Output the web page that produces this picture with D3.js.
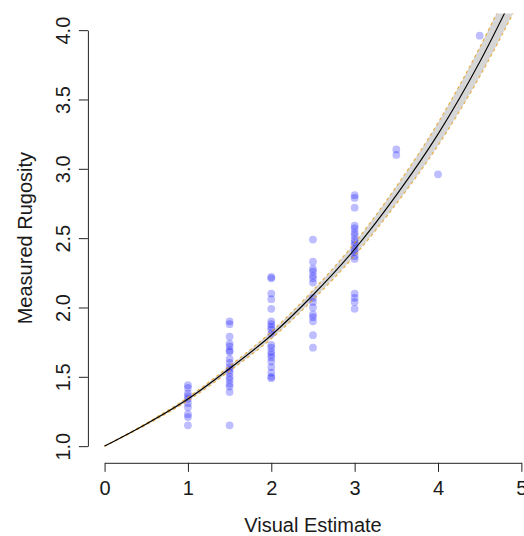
<!DOCTYPE html>
<html>
<head>
<meta charset="utf-8">
<script src="https://cdn.jsdelivr.net/npm/d3@7/dist/d3.min.js"></script>
<style>
  html, body { margin: 0; padding: 0; background: #fff; }
  svg text { font-family: "Liberation Sans", Arial, sans-serif; fill: #1a1a1a; }
</style>
</head>
<body>
<script>
// Observed pairs: visual estimate vs measured rugosity
const visEst = [
  1, 1, 1, 1, 1, 1, 1, 1, 1, 1,
  1.5, 1.5, 1.5, 1.5, 1.5, 1.5, 1.5, 1.5, 1.5, 1.5, 1.5, 1.5, 1.5, 1.5, 1.5, 1.5, 1.5, 1.5,
  2, 2, 2, 2, 2, 2, 2, 2, 2, 2, 2, 2, 2, 2, 2, 2, 2, 2, 2, 2,
  2.5, 2.5, 2.5, 2.5, 2.5, 2.5, 2.5, 2.5, 2.5, 2.5, 2.5, 2.5, 2.5, 2.5, 2.5,
  3, 3, 3, 3, 3, 3, 3, 3, 3, 3, 3, 3, 3, 3, 3, 3, 3, 3,
  3.5, 3.5, 4, 4.5
];
const rugosity = [
  1.44, 1.42, 1.38, 1.36, 1.34, 1.31, 1.28, 1.23, 1.21, 1.15,
  1.90, 1.88, 1.79, 1.74, 1.72, 1.69, 1.68, 1.63, 1.60, 1.57, 1.55, 1.53, 1.50, 1.48, 1.45, 1.43, 1.39, 1.15,
  2.22, 2.21, 2.10, 2.06, 1.99, 1.90, 1.88, 1.86, 1.84, 1.81, 1.73, 1.71, 1.68, 1.66, 1.64, 1.61, 1.57, 1.53, 1.50, 1.49,
  2.49, 2.33, 2.28, 2.26, 2.23, 2.21, 2.18, 2.07, 2.04, 2.00, 1.95, 1.93, 1.90, 1.80, 1.71,
  2.81, 2.79, 2.72, 2.59, 2.57, 2.54, 2.52, 2.49, 2.47, 2.45, 2.42, 2.40, 2.37, 2.35, 2.10, 2.07, 2.04, 1.99,
  3.14, 3.10, 2.96, 3.96
];

// Fitted curve with its confidence band
const fitX     = [0, 0.5, 1, 1.5, 2, 2.5, 3, 3.5, 4, 4.5, 5];
const fitY     = [1.00, 1.16, 1.34, 1.56, 1.80, 2.09, 2.42, 2.81, 3.25, 3.77, 4.37];
const fitLower = [1.00, 1.154, 1.328, 1.542, 1.775, 2.056, 2.374, 2.748, 3.168, 3.665, 4.24];
const fitUpper = [1.00, 1.166, 1.352, 1.578, 1.825, 2.124, 2.466, 2.872, 3.332, 3.875, 4.50];

// Axis ticks
const xTicks = [0, 1, 2, 3, 4, 5];
const yTicks = [1.0, 1.5, 2.0, 2.5, 3.0, 3.5, 4.0];

const W = 524, H = 536;
const svg = d3.select("body").append("svg").attr("width", W).attr("height", H);

// Plot region spans the data range padded by 4% on each side
const x = d3.scaleLinear().domain([-0.2, 5.2]).range([87.9, 87.9 + 5.4 * 83.36]);
const y = d3.scaleLinear().domain([0.88, 4.12]).range([462.8, 13.5]);

svg.append("defs").append("clipPath").attr("id", "plotClip")
  .append("rect")
  .attr("x", x(-0.2)).attr("y", y(4.12))
  .attr("width", x(5.2) - x(-0.2)).attr("height", y(0.88) - y(4.12));

const plot = svg.append("g").attr("clip-path", "url(#plotClip)");

const fitRows = fitX.map((v, i) => ({ x: v, y: fitY[i], lo: fitLower[i], hi: fitUpper[i] }));

// Confidence band
plot.append("path")
  .datum(fitRows)
  .attr("fill", "#d2d2d2")
  .attr("fill-opacity", 0.9)
  .attr("d", d3.area().curve(d3.curveMonotoneX)
    .x(d => x(d.x)).y0(d => y(d.lo)).y1(d => y(d.hi)));

// Points
plot.append("g").selectAll("circle")
  .data(visEst.map((v, i) => ({ x: v, y: rugosity[i] })))
  .join("circle")
  .attr("cx", d => x(d.x))
  .attr("cy", d => y(d.y))
  .attr("r", 3.9)
  .attr("fill", "#0000ff")
  .attr("fill-opacity", 0.26);

// Band edges (dashed)
["lo", "hi"].forEach(k => {
  plot.append("path")
    .datum(fitRows)
    .attr("fill", "none")
    .attr("stroke", "#e8a020")
    .attr("stroke-opacity", 0.8)
    .attr("stroke-width", 1.2)
    .attr("stroke-dasharray", "3,3")
    .attr("d", d3.line().curve(d3.curveMonotoneX).x(d => x(d.x)).y(d => y(d[k])));
});

// Fitted line
plot.append("path")
  .datum(fitRows)
  .attr("fill", "none")
  .attr("stroke", "#000")
  .attr("stroke-width", 1.1)
  .attr("d", d3.line().curve(d3.curveMonotoneX).x(d => x(d.x)).y(d => y(d.y)));

// X axis: line spans first to last tick only
const xAxisScale = d3.scaleLinear().domain([0, 5]).range([x(0), x(5)]);
const gx = svg.append("g").attr("transform", `translate(0,${y(0.88)})`)
  .call(d3.axisBottom(xAxisScale).tickValues(xTicks).tickFormat(d3.format("d"))
    .tickSize(9).tickSizeOuter(0).tickPadding(9));
gx.select(".domain").attr("stroke", "#222");
gx.selectAll(".tick line").attr("stroke", "#222");
gx.selectAll(".tick text").attr("font-size", 20).attr("fill", "#1a1a1a")
  .style("font-family", "'Liberation Sans', Arial, sans-serif");

// Y axis: labels rotated parallel to the axis
const yAxisScale = d3.scaleLinear().domain([1, 4]).range([y(1), y(4)]);
const gy = svg.append("g").attr("transform", `translate(${x(-0.2)},0)`)
  .call(d3.axisLeft(yAxisScale).tickValues(yTicks).tickFormat(d3.format(".1f"))
    .tickSize(9).tickSizeOuter(0));
gy.select(".domain").attr("stroke", "#222");
gy.selectAll(".tick line").attr("stroke", "#222");
gy.selectAll(".tick text")
  .attr("x", null).attr("dy", null)
  .attr("transform", "translate(-18,0) rotate(-90)")
  .attr("text-anchor", "middle")
  .attr("font-size", 20).attr("fill", "#1a1a1a")
  .style("font-family", "'Liberation Sans', Arial, sans-serif");

// Axis titles
svg.append("text")
  .attr("x", (x(-0.2) + x(5.2)) / 2).attr("y", 532)
  .attr("text-anchor", "middle").attr("font-size", 20)
  .text("Visual Estimate");

svg.append("text")
  .attr("transform", `translate(32,${(y(0.88) + y(4.12)) / 2}) rotate(-90)`)
  .attr("text-anchor", "middle").attr("font-size", 20)
  .text("Measured Rugosity");
</script>
</body>
</html>
